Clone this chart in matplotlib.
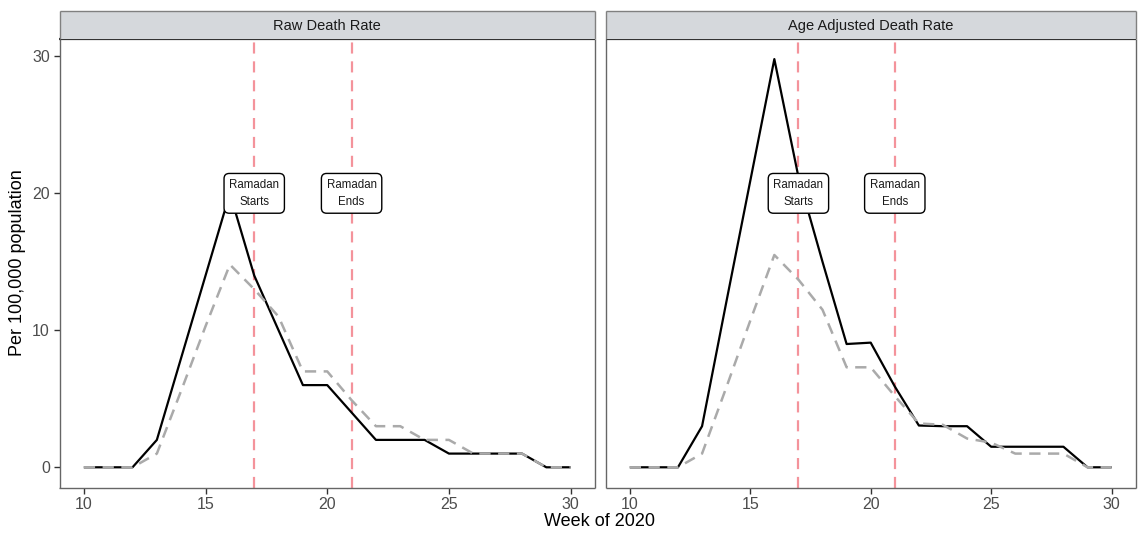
import matplotlib
matplotlib.use("Agg")
import matplotlib.pyplot as plt

plt.rcParams['font.family'] = ['Liberation Sans', 'DejaVu Sans']

weeks = list(range(10, 31))
panel_titles = ["Raw Death Rate", "Age Adjusted Death Rate"]

raw_solid = [0, 0, 0, 2, 8, 14, 20, 14, 10, 6, 6, 4, 2, 2, 2, 1, 1, 1, 1, 0, 0]
raw_dashed = [0, 0, 0, 1.0, 5.6, 10.3, 14.8, 13.0, 11.0, 7.0, 7.0, 4.9, 3.0, 3.0, 2.0, 2.0, 1.0, 1.0, 1.0, 0, 0]
adj_solid = [0, 0, 0, 3.0, 12.0, 20.9, 29.8, 21.2, 15.0, 9.0, 9.1, 5.9, 3.05, 3.0, 3.0, 1.5, 1.5, 1.5, 1.5, 0, 0]
adj_dashed = [0, 0, 0, 1.0, 5.8, 10.7, 15.5, 13.7, 11.5, 7.3, 7.3, 5.2, 3.2, 3.1, 2.1, 1.8, 1.0, 1.0, 1.0, 0, 0]

event_weeks = [17, 21]
event_labels = ["Ramadan\nStarts", "Ramadan\nEnds"]
label_y = 20

x_ticks = [10, 15, 20, 25, 30]
y_ticks = [0, 10, 20, 30]

W, H = 1139, 533
fig = plt.figure(figsize=(W / 100, H / 100), dpi=100)

def fx(px):
    return px / W

def fy(py):
    return 1 - py / H

panel_top, panel_bot = 38.7, 487.7
strip_top = 10.7
panels = [(59.5, 595.0), (605.7, 1135.7)]
series = [(raw_solid, raw_dashed), (adj_solid, adj_dashed)]

ymax = max(max(raw_solid), max(adj_solid))
ylo, yhi = -0.05 * ymax, ymax * 1.05

tick_col = '#4D4D4D'
for i, ((x0, x1), (solid, dashed), title) in enumerate(zip(panels, series, panel_titles)):
    ax = fig.add_axes([fx(x0), fy(panel_bot), fx(x1) - fx(x0), fy(panel_top) - fy(panel_bot)])
    for wk in event_weeks:
        ax.axvline(wk, color='#F4939B', lw=1.6, dashes=(5, 3.5), zorder=1)
    ax.plot(weeks, solid, color='black', lw=1.6, zorder=2, solid_capstyle='butt')
    ax.plot(weeks, dashed, color='#AAAAAA', lw=1.8, dashes=(4.5, 3), zorder=3)
    for wk, lab in zip(event_weeks, event_labels):
        ax.text(wk, label_y, lab, ha='center', va='center', fontsize=8.3, color='#1a1a1a',
                linespacing=1.6, zorder=5,
                bbox=dict(boxstyle='round,pad=0.45,rounding_size=0.45', fc='white', ec='black', lw=1.0))
    ax.set_xlim(9, 31)
    ax.set_ylim(ylo, yhi)
    ax.set_xticks(x_ticks)
    ax.set_yticks(y_ticks)
    ax.tick_params(axis='both', colors='#333333', labelcolor=tick_col, labelsize=11.5,
                   length=4, width=1.0, direction='out', pad=3)
    if i == 1:
        ax.tick_params(axis='y', left=False, labelleft=False)
    for s in ax.spines.values():
        s.set_color('#666666')
        s.set_linewidth(1.0)
        s.set_capstyle('butt')
    ax.spines['top'].set_color('#333333')
    ax.spines['top'].set_linewidth(1.6)
    # strip
    sax = fig.add_axes([fx(x0), fy(panel_top), fx(x1) - fx(x0), fy(strip_top) - fy(panel_top)])
    sax.set_facecolor('#D5D8DC')
    sax.set_xticks([])
    sax.set_yticks([])
    for s in sax.spines.values():
        s.set_color('#808080')
        s.set_linewidth(1.0)
        s.set_capstyle('butt')
    sax.spines['bottom'].set_visible(False)
    sax.text(0.5, 0.47, title, ha='center', va='center', fontsize=10.5, color='#1a1a1a',
             transform=sax.transAxes)

fig.text(fx(600), fy(522), "Week of 2020", ha='center', va='center', fontsize=13, color='black')
fig.text(fx(18), fy(263), "Per 100,000 population", ha='center', va='center', rotation=90,
         fontsize=13, color='black')

fig.savefig("out.png", dpi=100)
